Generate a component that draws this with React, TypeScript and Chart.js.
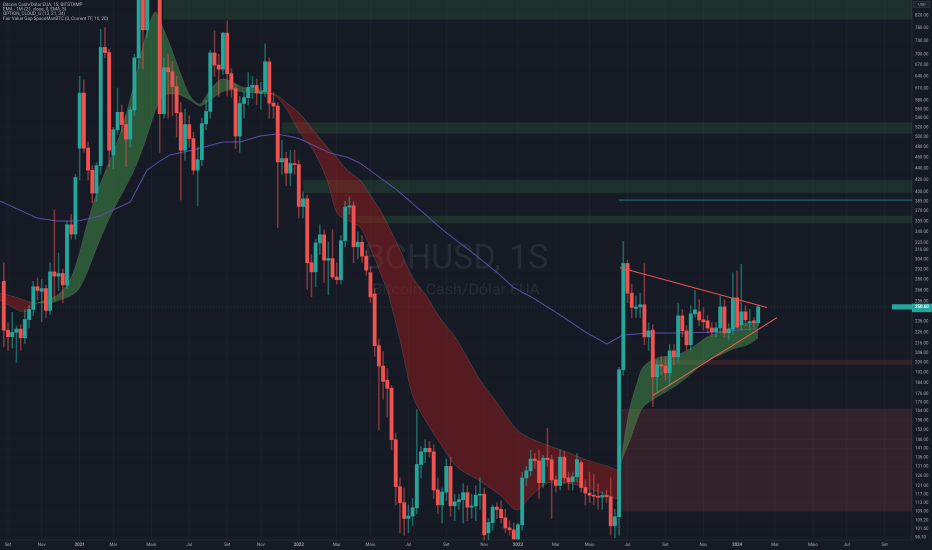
import React, { useEffect, useRef } from "react";
import { Chart, registerables } from "chart.js";

Chart.register(...registerables);

// ---------- data (weekly BCHUSD, Bitstamp) ----------
const FIRST_BAR = "2020-08-31";

const opens = [
  278, 228, 222, 226, 229, 221, 238, 248, 272, 267,
  270, 247, 289, 284, 287, 274, 350, 337, 478, 598,
  478, 437, 398, 445, 720, 705, 465, 515, 553, 526,
  496, 558, 690, 960, 773, 1100, 1400, 1100, 550, 663,
  652, 614, 552, 474, 526, 497, 437, 456, 528, 555,
  704, 670, 659, 763, 647, 609, 502, 573, 587, 612,
  617, 598, 601, 679, 574, 567, 452, 458, 432, 449,
  447, 377, 389, 300, 289, 325, 336, 303, 305, 283,
  280, 328, 376, 378, 320, 326, 308, 288, 264, 214,
  197, 186, 180, 146, 120.6, 113, 106, 107, 110.7, 132,
  139, 141, 139, 119, 112, 118, 131, 111.6, 113.4, 114.4,
  117.7, 111, 111.5, 116.5, 117, 100, 104.2, 111, 110, 106.3,
  102, 101.2, 97.5, 103.3, 125, 128.7, 135, 134, 122.6, 135.5,
  134.6, 124, 121.2, 136, 125, 123, 125.6, 133, 120.2, 117.5,
  116.5, 116, 115.6, 116.4, 115.8, 102.9, 106.7, 194, 299, 265,
  249, 250.6, 252.7, 221.8, 228, 188.6, 198, 197, 191.6, 209.6,
  204.5, 241.6, 227.3, 214.8, 243.6, 245.6, 237.7, 236.8, 230, 226.4,
  230, 250.6, 225.5, 229, 260, 233, 245.6, 235, 236.8, 235,
];
const highs = [
  300, 235, 245, 232, 233, 248, 252, 278, 282, 280,
  274, 300, 372, 312, 292, 355, 365, 430, 640, 631,
  490, 445, 450, 775, 780, 715, 520, 610, 570, 545,
  565, 700, 1000, 1050, 1150, 1500, 1650, 1150, 690, 700,
  680, 640, 575, 560, 545, 510, 480, 540, 580, 712,
  770, 700, 766, 802, 660, 620, 590, 600, 650, 640,
  633, 625, 730, 690, 600, 575, 494, 470, 474, 474,
  455, 400, 395, 310, 330, 350, 343, 326, 343, 300,
  335, 385, 392, 385, 340, 335, 315, 295, 270, 220,
  209, 195, 182, 150, 125, 120, 112, 115, 165, 142,
  146, 145, 143, 125, 120, 135, 136, 117, 117, 122,
  121, 117, 121, 125, 120, 106, 112, 113, 114, 110,
  105, 104, 104, 128, 131, 140, 138, 140, 137, 153,
  137, 126, 140, 139, 128, 128, 138, 134, 124, 128,
  127, 122, 118, 119, 125, 110, 196, 327, 303, 275,
  262, 265, 299, 235, 233, 202, 205, 205, 215, 215,
  254, 248, 232, 252, 268, 258, 250, 242, 235, 235,
  262, 258, 234, 288, 290, 298, 252, 248, 240, 252,
];
const lows = [
  213, 210, 212, 200, 210, 216, 230, 242, 258, 236,
  240, 243, 258, 268, 255, 270, 330, 330, 420, 470,
  420, 383, 385, 430, 690, 443, 440, 505, 510, 443,
  480, 545, 660, 660, 750, 1000, 950, 470, 540, 540,
  545, 500, 387, 455, 480, 430, 378, 445, 515, 540,
  640, 590, 645, 590, 588, 477, 470, 540, 570, 585,
  570, 560, 590, 540, 540, 346, 430, 410, 410, 430,
  360, 360, 269, 261, 272, 310, 277, 263, 281, 275,
  275, 320, 365, 300, 305, 300, 285, 255, 205, 152,
  172, 160, 140, 112, 100, 99, 100, 103, 108, 125,
  133, 136, 115, 108, 104, 114, 107, 105, 110, 104,
  105, 106, 105, 110, 95, 96, 101, 106, 104, 100,
  99, 95, 95, 101, 121, 126, 130, 115, 120, 131,
  106, 118, 119, 122, 119, 119, 123, 118, 112, 113,
  112, 110, 110, 113, 99, 98, 99, 190, 255, 240,
  240, 240, 215, 210, 167, 178, 190, 186, 182, 198,
  200, 222, 210, 210, 240, 232, 228, 225, 222, 222,
  226, 222, 220, 224, 230, 228, 232, 228, 230, 232,
];
const closes = [
  228, 222, 226, 229, 221, 238, 248, 272, 268, 270,
  247, 289, 284, 287, 274, 350, 337, 424, 598, 478,
  437, 398, 445, 720, 705, 474, 515, 553, 526, 496,
  558, 690, 960, 773, 1100, 1400, 1100, 550, 663, 652,
  614, 552, 474, 526, 497, 437, 456, 528, 555, 704,
  670, 659, 763, 647, 609, 502, 573, 587, 612, 617,
  598, 601, 679, 574, 567, 452, 458, 432, 449, 447,
  377, 389, 300, 289, 325, 336, 303, 305, 283, 280,
  328, 376, 378, 320, 326, 308, 291, 261, 214, 197,
  185, 180, 146, 120.6, 113, 106, 107, 110.7, 132, 139,
  141, 139, 119, 112, 118, 131, 111.6, 113.4, 114.4, 117.7,
  111, 111.5, 116.5, 117, 99.2, 104.2, 111, 110, 106.3, 102,
  101.2, 97.5, 103.3, 125, 128.7, 135, 134, 122.6, 135.5, 134.6,
  124, 121.2, 136, 125, 123, 125.6, 134.6, 120.2, 117.5, 116.5,
  116, 115.6, 116.4, 115.8, 102.9, 106.7, 194, 299, 265, 250,
  250.6, 252.7, 221.8, 227.3, 188.6, 198, 197, 191.6, 209.6, 204.5,
  241.6, 227.3, 214.8, 243.6, 247.6, 237.7, 235.8, 230, 226.4, 230,
  250.6, 225.5, 229, 260, 231, 245.6, 237.7, 236, 235, 250.6,
];

// cloud (fast / slow averages) sampled at bar positions
const cloudIdx = [
  -0.9, 1.95, 4.79, 6.93, 8.59, 10.96, 13.34, 15.71, 17.61, 19.51,
  21.64, 24.02, 26.39, 28.76, 31.14, 33.51, 35.88, 37.78, 39.44, 41.81,
  44.19, 46.56, 48.93, 51.78, 54.15, 56.53, 59.61, 62.7, 64.6, 67.21,
  70.29, 73.38, 76.7, 79.07, 81.44, 84.53, 86.19, 89.27, 90.94, 94.02,
  97.11, 100.43, 103.51, 107.55, 113.01, 117.75, 121.79, 124.87, 128.9, 133.65,
  138.4, 143.14, 145.52, 146.23, 146.94, 148.6, 150.26, 151.69, 155.01, 159.75,
  163.55, 166.87, 169.96, 173.04, 176.37, 178.98,
];
const cloudFast = [
  257.7, 250.5, 245.4, 252.5, 255.6, 258.7, 265.1, 279.5, 305.7, 345.4,
  390.2, 433.8, 478.2, 540.3, 630.6, 748.1, 831.5, 779.1, 727.0, 651.5,
  590.8, 571.9, 605.5, 633.2, 625.5, 613.0, 608.0, 600.6, 590.8, 558.2,
  508.3, 474.3, 419.9, 367.1, 356.8, 346.8, 328.9, 288.7, 268.4, 219.0,
  173.7, 156.3, 144.0, 130.7, 123.4, 116.6, 109.7, 115.7, 122.4, 122.4,
  120.0, 116.6, 115.1, 126.5, 141.7, 166.7, 183.8, 196.2, 203.6, 206.1,
  212.9, 221.7, 226.3, 230.9, 234.7, 235.7,
];
const cloudSlow = [
  265.1, 261.9, 257.7, 254.6, 254.6, 254.6, 257.7, 261.9, 268.4, 285.2,
  313.2, 345.4, 376.2, 406.4, 440.9, 490.0, 553.7, 590.8, 595.7, 593.3,
  581.3, 567.3, 581.3, 600.6, 605.5, 600.6, 598.2, 595.7, 593.3, 574.2,
  549.2, 514.5, 480.1, 459.1, 437.3, 419.9, 403.1, 371.6, 352.5, 315.8,
  281.8, 260.9, 239.5, 219.0, 186.1, 166.7, 151.9, 147.0, 142.9, 138.9,
  134.4, 131.2, 129.1, 130.7, 136.1, 145.8, 158.2, 166.7, 173.7, 182.4,
  192.2, 201.9, 206.0, 211.2, 214.6, 220.8,
];

// monthly EMA 21
const emaIdx = [
  -0.9, 3.8, 7.9, 12.6, 17.6, 22.8, 30.0, 34.0, 37.1, 39.4,
  44.9, 52.0, 56.1, 60.8, 64.8, 68.6, 70.3, 77.4, 81.4, 84.5,
  93.3, 98.8, 104.2, 111.3, 117.8, 120.8, 125.6, 131.3, 138.4, 143.1,
  146.9, 153.3, 161.2, 169.2, 174.7, 178.7,
];
const emaVal = [
  385.4, 371.6, 359.7, 355.4, 355.4, 362.7, 383.9, 437.3, 453.6, 464.8,
  474.3, 490.0, 490.0, 502.1, 506.2, 500.1, 496.0, 468.5, 461.0, 449.9,
  403.1, 371.6, 342.6, 312.0, 285.2, 271.7, 259.8, 244.4, 225.3, 215.5,
  223.5, 225.3, 225.3, 226.3, 228.1, 229.0,
];

// triangle trend lines
const triUpperIdx = [146.2, 181.1];
const triUpperVal = [294, 250];
const triLowerIdx = [154.1, 183.5];
const triLowerVal = [175, 240];

// horizontal level
const levelIdx = [146, 215.5];
const levelVal = [387, 387];

// fair value gaps
const fvgStart = [37.8, 66, 71, 83.8, 154.5, 145.5];
const fvgTop = [900, 531, 420, 363, 202, 165.5];
const fvgBottom = [806, 507, 398, 352, 198, 109];
const fvgBull = [true, true, true, true, false, false];

const priceTicks = [
  820, 780, 740, 700, 670, 640, 610, 580, 560, 540, 520, 500, 480, 460, 440, 420,
  400, 385, 370, 355, 340, 325, 316, 304, 292, 280, 268, 256, 236, 226, 216, 208,
  200, 192, 184, 176, 170, 164, 158, 152, 146, 141, 136, 131, 126, 121, 117, 113,
  109, 105.2, 101.6, 98.1,
];

const monthDates = [
  "2020-09-01", "2020-11-01", "2021-01-01", "2021-03-01", "2021-05-01", "2021-07-01",
  "2021-09-01", "2021-11-01", "2022-01-01", "2022-03-01", "2022-05-01", "2022-07-01",
  "2022-09-01", "2022-11-01", "2023-01-01", "2023-03-01", "2023-05-01", "2023-07-01",
  "2023-09-01", "2023-11-01", "2024-01-01", "2024-03-01", "2024-05-01", "2024-07-01",
  "2024-09-01",
];
const monthLabels = [
  "Set", "Nov", "2021", "Mar", "Maio", "Jul", "Set", "Nov", "2022", "Mar", "Maio", "Jul",
  "Set", "Nov", "2023", "Mar", "Maio", "Jul", "Set", "Nov", "2024", "Mar", "Maio", "Jul", "Set",
];

const legendLines = [
  "Bitcoin Cash/Dólar EUA, 1S, BITSTAMP",
  "EMA - 1M (21, close, 0, EMA, 5)",
  "OPTION_CLOUD_G (13, 21, 34)",
  "Fair Value Gap SpaceManBTC (0, Current TF, 10, 20)",
];
const watermarkTitle = "BCHUSD, 1S";
const watermarkSub = "Bitcoin Cash/Dólar EUA";
const currencyLabel = "USD";

const X_MIN = -0.9;
const X_MAX = 215.5;
const Y_MIN = 97.1;
const Y_MAX = 873.1;

// ---------- styles ----------
const BG = "#161a25";
const UP = "#26a69a";
const DN = "#ef5350";
const WICK_UP = "rgba(38,166,154,0.55)";
const WICK_DN = "rgba(239,83,80,0.5)";
const TEXT = "#a9acb5";
const FONT = "Roboto, 'Noto Sans', sans-serif";

export default function App() {
  const ref = useRef<HTMLCanvasElement | null>(null);

  useEffect(() => {
    document.body.style.margin = "0";
    document.body.style.background = BG;
    const canvas = ref.current;
    if (!canvas) return;

    const idx = closes.map((_, i) => i);
    const up = idx.map((i) => closes[i] >= opens[i]);
    const first = Date.parse(FIRST_BAR);
    const tickIdx = monthDates.map((d) => Math.ceil((Date.parse(d) - first) / 86400000 / 7));
    const labelAt = new Map<number, string>(tickIdx.map((v, k) => [v, monthLabels[k]]));
    const lastClose = closes[closes.length - 1];

    const overlay = {
      id: "overlay",
      beforeDatasetsDraw(chart: any) {
        const { ctx, chartArea: a, scales } = chart;
        const xs = scales.x;
        const ys = scales.y;
        ctx.save();
        ctx.beginPath();
        ctx.rect(a.left, a.top, a.right - a.left, a.bottom - a.top);
        ctx.clip();
        // watermark
        const cx = (a.left + a.right) / 2;
        ctx.textAlign = "center";
        ctx.textBaseline = "alphabetic";
        ctx.fillStyle = "rgba(255,255,255,0.075)";
        ctx.font = `34px ${FONT}`;
        ctx.fillText(watermarkTitle, cx, a.top + a.height * 0.497);
        ctx.font = `16px ${FONT}`;
        ctx.fillText(watermarkSub, cx, a.top + a.height * 0.545);
        // fair value gaps
        fvgStart.forEach((s, k) => {
          const x0 = xs.getPixelForValue(s);
          const y0 = ys.getPixelForValue(fvgTop[k]);
          const y1 = ys.getPixelForValue(fvgBottom[k]);
          ctx.fillStyle = fvgBull[k] ? "rgba(76,175,80,0.15)" : "rgba(239,83,80,0.14)";
          ctx.fillRect(x0, y0, a.right - x0, y1 - y0);
        });
        // last price dotted line
        const py = ys.getPixelForValue(lastClose);
        ctx.strokeStyle = "rgba(38,166,154,0.35)";
        ctx.lineWidth = 0.6;
        ctx.setLineDash([1, 2]);
        ctx.beginPath();
        ctx.moveTo(a.left, py);
        ctx.lineTo(a.right, py);
        ctx.stroke();
        ctx.restore();
      },
      afterDraw(chart: any) {
        const { ctx, chartArea: a, scales, width } = chart;
        const ys = scales.y;
        ctx.save();
        // legend
        ctx.textAlign = "left";
        ctx.textBaseline = "middle";
        ctx.fillStyle = "rgba(209,212,220,0.85)";
        ctx.font = `4.6px ${FONT}`;
        legendLines.forEach((t, k) => ctx.fillText(t, a.left + 3, a.top + 4.7 + k * 4.67));
        // currency box
        ctx.fillStyle = "#1e222d";
        ctx.strokeStyle = "#3a3e4a";
        ctx.lineWidth = 0.6;
        ctx.fillRect(a.right + 1.5, 1.5, width - a.right - 3.5, 6);
        ctx.strokeRect(a.right + 1.5, 1.5, width - a.right - 3.5, 6);
        ctx.fillStyle = TEXT;
        ctx.textAlign = "center";
        ctx.font = `3.8px ${FONT}`;
        ctx.fillText(currencyLabel, (a.right + width) / 2, 4.6);
        // last price markers
        const py = ys.getPixelForValue(lastClose);
        ctx.fillStyle = UP;
        ctx.fillRect(a.right - 20, py - 2.6, 20, 5.2);
        ctx.fillRect(a.right, py - 3.2, width - a.right, 8.5);
        ctx.fillStyle = "#ffffff";
        ctx.textAlign = "left";
        ctx.font = `bold 4.4px ${FONT}`;
        ctx.fillText(lastClose.toFixed(2), a.right + 3, py);
        ctx.restore();
      },
    };

    const chart = new Chart(canvas, {
      type: "bar",
      data: {
        datasets: [
          {
            type: "line",
            label: "fast",
            data: cloudIdx.map((x, k) => ({ x, y: cloudFast[k] })),
            borderColor: "rgba(150,150,150,0.28)",
            borderWidth: 0.7,
            pointRadius: 0,
            tension: 0.3,
            fill: { target: "+1", above: "rgba(76,175,80,0.42)", below: "rgba(183,28,28,0.4)" },
            order: 20,
          },
          {
            type: "line",
            label: "slow",
            data: cloudIdx.map((x, k) => ({ x, y: cloudSlow[k] })),
            borderColor: "rgba(150,150,150,0.28)",
            borderWidth: 0.7,
            pointRadius: 0,
            tension: 0.3,
            fill: false,
            order: 19,
          },
          {
            type: "line",
            label: "ema",
            data: emaIdx.map((x, k) => ({ x, y: emaVal[k] })),
            borderColor: "#5d4fa8",
            borderWidth: 1,
            pointRadius: 0,
            tension: 0,
            fill: false,
            order: 10,
          },
          {
            type: "line",
            label: "level",
            data: levelIdx.map((x, k) => ({ x, y: levelVal[k] })),
            borderColor: "rgba(38,166,154,0.85)",
            borderWidth: 0.9,
            pointRadius: 0,
            fill: false,
            order: 9,
          },
          {
            type: "bar",
            label: "wicks",
            data: idx.map((i) => ({ x: i, y: [lows[i], highs[i]] })) as any,
            backgroundColor: idx.map((i) => (up[i] ? WICK_UP : WICK_DN)),
            barThickness: 0.9,
            grouped: false,
            order: 6,
          } as any,
          {
            type: "bar",
            label: "bodies",
            data: idx.map((i) => ({ x: i, y: [opens[i], closes[i]] })) as any,
            backgroundColor: idx.map((i) => (up[i] ? UP : DN)),
            barThickness: 3.2,
            minBarLength: 1,
            grouped: false,
            order: 5,
          } as any,
          {
            type: "line",
            label: "triUpper",
            data: triUpperIdx.map((x, k) => ({ x, y: triUpperVal[k] })),
            borderColor: "#ef5350",
            borderWidth: 1,
            pointRadius: 0,
            fill: false,
            order: 1,
          },
          {
            type: "line",
            label: "triLower",
            data: triLowerIdx.map((x, k) => ({ x, y: triLowerVal[k] })),
            borderColor: "#f0614f",
            borderWidth: 1,
            pointRadius: 0,
            fill: false,
            order: 1,
          },
        ],
      },
      options: {
        responsive: false,
        animation: false,
        devicePixelRatio: 2,
        events: [],
        layout: { padding: 0 },
        plugins: { legend: { display: false }, tooltip: { enabled: false } },
        scales: {
          x: {
            type: "linear",
            min: X_MIN,
            max: X_MAX,
            offset: false,
            position: "bottom",
            afterBuildTicks: (s: any) => {
              s.ticks = tickIdx.map((v) => ({ value: v }));
            },
            afterFit: (s: any) => {
              s.height = 10;
              s.paddingLeft = 0;
              s.paddingRight = 0;
            },
            grid: { color: "rgba(42,46,57,0.55)", lineWidth: 0.6, drawTicks: false, offset: false },
            border: { display: true, color: "#2a2e39", width: 0.8 },
            ticks: {
              autoSkip: false,
              maxRotation: 0,
              padding: 2.5,
              color: TEXT,
              font: (c: any) => ({
                family: FONT,
                size: 4.4,
                weight: /^\d{4}$/.test(labelAt.get(c.tick?.value) ?? "") ? "bold" : "normal",
              }),
              callback: (v: any) => labelAt.get(Number(v)) ?? "",
            },
          },
          y: {
            type: "logarithmic",
            position: "right",
            min: Y_MIN,
            max: Y_MAX,
            afterBuildTicks: (s: any) => {
              s.ticks = priceTicks.map((v) => ({ value: v }));
            },
            afterFit: (s: any) => {
              s.width = 20;
              s.paddingTop = 0;
              s.paddingBottom = 0;
            },
            grid: { color: "rgba(42,46,57,0.28)", lineWidth: 0.6, drawTicks: false },
            border: { display: true, color: "#2a2e39", width: 0.8 },
            ticks: {
              autoSkip: false,
              padding: 3,
              color: TEXT,
              font: { family: FONT, size: 4.4 },
              callback: (v: any) => Number(v).toFixed(2),
            },
          },
        },
      },
      plugins: [overlay],
    } as any);

    return () => chart.destroy();
  }, []);

  return (
    <div style={{ position: "absolute", left: 0, top: 0, width: 932, height: 550, background: BG }}>
      <canvas ref={ref} width={932} height={550} style={{ display: "block" }} />
    </div>
  );
}
